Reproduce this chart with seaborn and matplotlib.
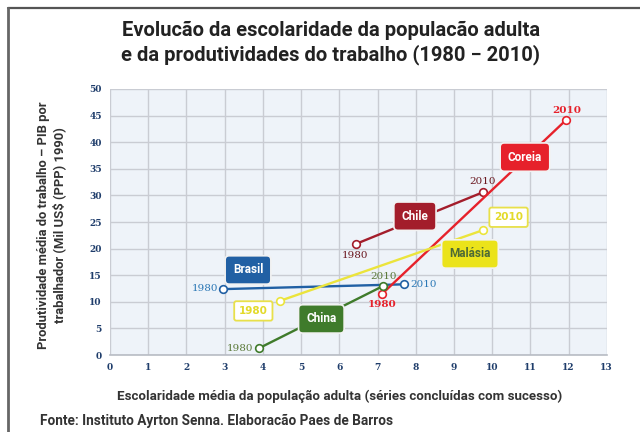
import matplotlib
matplotlib.use("Agg")
import matplotlib.pyplot as plt
import pandas as pd
import seaborn as sns

# escolaridade media (anos) e produtividade (mil US$ PPP 1990), 1980 e 2010
ANOS = [1980, 2010]
BRASIL_X = [2.96, 7.7]
BRASIL_Y = [12.4, 13.3]
CHILE_X = [6.44, 9.76]
CHILE_Y = [20.9, 30.6]
COREIA_X = [7.12, 11.94]
COREIA_Y = [11.5, 44.2]
MALASIA_X = [4.45, 9.77]
MALASIA_Y = [10.2, 23.5]
CHINA_X = [3.9, 7.15]
CHINA_Y = [1.3, 13.0]

X_TICKS = list(range(0, 14))
Y_TICKS = list(range(0, 51, 5))

TITLE = "Evolucão da escolaridade da populacão adulta\ne da produtividades do trabalho (1980 − 2010)"
X_LABEL = "Escolaridade média da população adulta (séries concluídas com sucesso)"
Y_LABEL = "Produtividade média do trabalho – PIB por\ntrabalhador (Mil US\\$ (PPP) 1990)"
SOURCE = "Fonte: Instituto Ayrton Senna. Elaboracão Paes de Barros"

COLORS = {
    "Brasil": "#2160a4",
    "Chile": "#a31d2b",
    "Coreia": "#e6212b",
    "Malásia": "#ebe43c",
    "China": "#3f7b2b",
}
YEAR_COLORS = {
    "Brasil": "#2b78b6",
    "Chile": "#6b1820",
    "Coreia": "#e6212b",
    "China": "#5b7a3a",
}

SANS = ["Roboto", "DejaVu Sans"]


def build_frame() -> pd.DataFrame:
    rows = []
    series = {
        "Brasil": (BRASIL_X, BRASIL_Y),
        "Chile": (CHILE_X, CHILE_Y),
        "Coreia": (COREIA_X, COREIA_Y),
        "Malásia": (MALASIA_X, MALASIA_Y),
        "China": (CHINA_X, CHINA_Y),
    }
    for pais, (xs, ys) in series.items():
        for ano, x, y in zip(ANOS, xs, ys):
            rows.append({"pais": pais, "ano": ano, "escolaridade": x, "produtividade": y})
    return pd.DataFrame(rows)


def name_box(ax, x, y, text, fc, tc="white"):
    ax.text(x, y, text, ha="center", va="center", fontsize=8.5, fontweight="bold",
            family=SANS, color=tc, zorder=6,
            bbox=dict(boxstyle="round,pad=0.65,rounding_size=0.35", fc=fc,
                      ec="#f2f2f2", lw=1.2))


def main() -> None:
    sns.set_style("whitegrid", {
        "axes.facecolor": "#eef3f9",
        "grid.color": "#c9ccd3",
        "axes.edgecolor": "#b8bcc4",
    })
    plt.rcParams["font.family"] = ["DejaVu Sans"]

    df = build_frame()

    fig = plt.figure(figsize=(6.4, 4.32), dpi=100)
    ax = fig.add_axes([0.172, 0.178, 0.776, 0.616])

    for pais, color in COLORS.items():
        sub = df[df["pais"] == pais]
        sns.lineplot(data=sub, x="escolaridade", y="produtividade", ax=ax,
                     color=color, lw=1.7, marker="o", markersize=5.5,
                     markerfacecolor="white", markeredgecolor=color,
                     markeredgewidth=1.2, sort=False, zorder=4)

    # caixas com o nome do pais
    name_box(ax, 3.61, 16.0, "Brasil", COLORS["Brasil"])
    name_box(ax, 7.98, 26.1, "Chile", COLORS["Chile"])
    name_box(ax, 10.86, 37.2, "Coreia", COLORS["Coreia"])
    name_box(ax, 9.42, 19.0, "Malásia", "#ebe31a", tc="#4d6a35")
    name_box(ax, 5.53, 6.8, "China", COLORS["China"])

    # rotulos de ano
    year_kw = dict(fontsize=7.5, family="DejaVu Serif", zorder=6)
    ax.text(2.82, 12.6, "1980", ha="right", va="center", color=YEAR_COLORS["Brasil"], **year_kw)
    ax.text(7.85, 13.2, "2010", ha="left", va="center", color=YEAR_COLORS["Brasil"], **year_kw)
    ax.text(6.41, 18.8, "1980", ha="center", va="center", color=YEAR_COLORS["Chile"], **year_kw)
    ax.text(9.74, 32.7, "2010", ha="center", va="center", color=YEAR_COLORS["Chile"], **year_kw)
    ax.text(7.12, 9.5, "1980", ha="center", va="center", color=YEAR_COLORS["Coreia"],
            fontweight="bold", **year_kw)
    ax.text(11.96, 45.9, "2010", ha="center", va="center", color=YEAR_COLORS["Coreia"],
            fontweight="bold", **year_kw)
    ax.text(3.75, 1.3, "1980", ha="right", va="center", color=YEAR_COLORS["China"], **year_kw)
    ax.text(7.15, 14.8, "2010", ha="center", va="center", color=YEAR_COLORS["China"], **year_kw)
    for x, y, ano in [(3.75, 8.3, "1980"), (10.43, 25.9, "2010")]:
        ax.text(x, y, ano, ha="center", va="center", color="#e3da2a", fontsize=7.5,
                fontweight="bold", zorder=6,
                bbox=dict(boxstyle="round,pad=0.45,rounding_size=0.2", fc="white",
                          ec="#e8e04a", lw=1.3))

    ax.set_xlim(0, 13)
    ax.set_ylim(0, 50)
    ax.set_xticks(X_TICKS)
    ax.set_yticks(Y_TICKS)
    ax.set_xlabel("")
    ax.set_ylabel("")
    ax.grid(True, lw=1.0)
    for side in ["top", "right", "left"]:
        ax.spines[side].set_visible(False)
    ax.spines["bottom"].set_linewidth(1.2)
    ax.tick_params(axis="both", length=0, pad=6, labelsize=6.5, colors="#1f3d6b")
    for lbl in ax.get_xticklabels() + ax.get_yticklabels():
        lbl.set_fontweight("bold")
        lbl.set_family("DejaVu Serif")

    fig.text(0.517, 0.900, TITLE, ha="center", va="center", fontsize=14.5,
             fontweight="bold", family=SANS, color="#222222", linespacing=1.25)
    fig.text(0.531, 0.083, X_LABEL, ha="center", va="center", fontsize=9.6,
             fontweight="bold", family=SANS, color="#333333")
    fig.text(0.080, 0.479, Y_LABEL, ha="center", va="center", rotation=90,
             fontsize=9.4, fontweight="bold", family=SANS, color="#333333",
             linespacing=1.2)
    fig.text(0.063, 0.025, SOURCE, ha="left", va="center", fontsize=9.8,
             fontweight="bold", family=SANS, color="#333333")

    # moldura
    fig.add_artist(plt.Line2D([0.0125, 1.0], [0.981, 0.981], color="#555555", lw=1.6,
                              transform=fig.transFigure))
    fig.add_artist(plt.Line2D([0.0125, 0.0125], [0.0, 0.981], color="#666666", lw=2.0,
                              transform=fig.transFigure))

    fig.savefig("out.png", dpi=100)


if __name__ == "__main__":
    main()
